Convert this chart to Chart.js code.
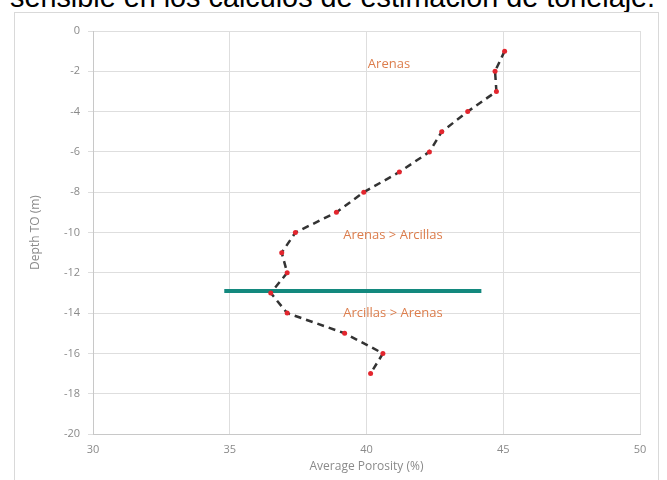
<!DOCTYPE html>
<html>
<head>
<meta charset="utf-8">
<script src="https://cdn.jsdelivr.net/npm/chart.js@4/dist/chart.umd.min.js"></script>
<style>
    html, body { margin: 0; padding: 0; background: #fff; }
    #wrap { position: relative; width: 667px; height: 480px; overflow: hidden; }
    #caption {
        position: absolute; left: 10px; top: -19px;
        font-family: "Liberation Sans", Arial, sans-serif; font-size: 28.8px;
        color: #000; white-space: nowrap;
    }
    #frame {
        position: absolute; left: 14px; top: 12px; width: 643px; height: 480px;
        border: 1px solid #d9d9d9; border-bottom: none;
    }
    #chart { position: absolute; left: 0; top: 0; }
</style>
</head>
<body>
<div id="wrap">
    <div id="caption">sensible en los cálculos de estimación de tonelaje.</div>
    <div id="frame"></div>
    <canvas id="chart" width="667" height="480"></canvas>
</div>
<script>
(function() {
    'use strict';

    // porosity profile
    var depths = [-1, -2, -3, -4, -5, -6, -7, -8, -9, -10, -11, -12, -13, -14, -15, -16, -17];
    var porosity = [45.05, 44.7, 44.75, 43.7, 42.75, 42.3, 41.2, 39.9, 38.9, 37.4, 36.9, 37.1, 36.5, 37.1, 39.2, 40.6, 40.15];

    // boundary line between the two units
    var boundaryX = [34.8, 44.2];
    var boundaryY = [-12.9, -12.9];

    var labelTexts = ['Arenas', 'Arenas > Arcillas', 'Arcillas > Arenas'];
    var labelX = [40.05, 39.15, 39.15];
    var labelY = [-1.65, -10.15, -14.0];

    var xTicks = [30, 35, 40, 45, 50];

    function toPoints(xs, ys) {
        var pts = [];
        for (var i = 0; i < xs.length; i++) {
            pts.push({ x: xs[i], y: ys[i] });
        }
        return pts;
    }

    var zoneLabels = {
        id: 'zoneLabels',
        afterDatasetsDraw: function(chart) {
            var ctx = chart.ctx,
                xs = chart.scales.x,
                ys = chart.scales.y;
            ctx.save();
            ctx.font = '13px "Open Sans", sans-serif';
            ctx.fillStyle = '#dc7d4c';
            ctx.textAlign = 'left';
            ctx.textBaseline = 'middle';
            for (var i = 0; i < labelTexts.length; i++) {
                ctx.fillText(labelTexts[i], xs.getPixelForValue(labelX[i]), ys.getPixelForValue(labelY[i]));
            }
            ctx.restore();
        }
    };

    var tickFont = { family: '"Open Sans", sans-serif', size: 11 };

    new Chart(document.getElementById('chart'), {
        type: 'scatter',
        data: {
            datasets: [{
                data: toPoints(porosity, depths),
                showLine: true,
                borderColor: '#333333',
                borderWidth: 2.5,
                borderDash: [7, 5],
                pointRadius: 2.5,
                pointBorderWidth: 0,
                pointBackgroundColor: '#e3262e'
            }, {
                data: toPoints(boundaryX, boundaryY),
                showLine: true,
                borderColor: '#13897e',
                borderWidth: 4,
                pointRadius: 0
            }]
        },
        options: {
            responsive: false,
            animation: false,
            layout: { padding: { left: 28, right: 27, top: 31, bottom: 6 } },
            plugins: {
                legend: { display: false },
                tooltip: { enabled: false }
            },
            scales: {
                x: {
                    type: 'linear',
                    min: 30,
                    max: 50,
                    afterBuildTicks: function(scale) {
                        scale.ticks = xTicks.map(function(v) { return { value: v }; });
                    },
                    afterFit: function(scale) { scale.height = 40; },
                    grid: { color: '#dedede', tickLength: 0, drawTicks: false },
                    border: { color: '#c8c8c8' },
                    ticks: { color: '#8a8a8a', font: tickFont, padding: 9 },
                    title: {
                        display: true,
                        text: 'Average Porosity (%)',
                        color: '#8a8a8a',
                        font: { family: '"Open Sans", sans-serif', size: 12 },
                        padding: { top: 0, bottom: 0 }
                    }
                },
                y: {
                    type: 'linear',
                    min: -20,
                    max: 0,
                    ticks: { stepSize: 2, color: '#8a8a8a', font: tickFont, padding: 8 },
                    afterFit: function(scale) { scale.width = 65; },
                    grid: { color: '#dedede', tickLength: 5 },
                    border: { color: '#c8c8c8' },
                    title: {
                        display: true,
                        text: 'Depth TO (m)',
                        color: '#8a8a8a',
                        font: { family: '"Open Sans", sans-serif', size: 12 },
                        padding: { top: 0, bottom: 4 }
                    }
                }
            }
        },
        plugins: [zoneLabels]
    });
})();
</script>
</body>
</html>
